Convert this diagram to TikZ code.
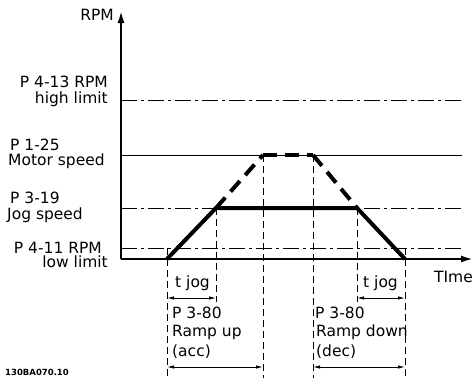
\documentclass[tikz,border=0pt]{standalone}
\usepackage{fontspec}
\setmainfont{DejaVu Sans}
\usetikzlibrary{arrows.meta}
\begin{document}
\begin{tikzpicture}[x=1pt,y=-1pt,
  lbl/.style={inner sep=0pt,font=\fontsize{15.5}{18}\selectfont},
  code/.style={inner sep=0pt,font=\fontsize{8.5}{10}\selectfont\bfseries},
  axis/.style={line width=2pt,-{Latex[length=12pt,width=7pt]}},
  level/.style={line width=0.9pt, dash pattern=on 16pt off 4pt on 3pt off 4pt},
  motor/.style={line width=1pt},
  ramp/.style={line width=4pt},
  rampdash/.style={line width=4pt, dash pattern=on 14pt off 8pt},
  guide/.style={line width=0.9pt, dash pattern=on 7pt off 4pt},
  dim/.style={line width=0.9pt,{Latex[length=7pt,width=3.5pt]}-{Latex[length=7pt,width=3.5pt]}},
]
\useasboundingbox (0,0) rectangle (474,378);

% axis coordinates
\coordinate (O) at (121,259);
\coordinate (ytop) at (121,11);
\coordinate (xend) at (473,259);

% level lines
\coordinate (hiL) at (121,100); \coordinate (hiR) at (462,100);
\coordinate (moL) at (121,155); \coordinate (moR) at (462,155);
\coordinate (jgL) at (121,208); \coordinate (jgR) at (462,208);
\coordinate (loL) at (121,248); \coordinate (loR) at (462,248);
\draw[level] (hiL) -- (hiR);
\draw[motor] (moL) -- (moR);
\draw[level] (jgL) -- (jgR);
\draw[level] (loL) -- (loR);

% ramp profile
\coordinate (A) at (167,259);
\coordinate (B) at (216,208);
\coordinate (C) at (263,155);
\coordinate (D) at (313,155);
\coordinate (E) at (357,208);
\coordinate (F) at (405,259);

% guides
\coordinate (gA1) at (167,248); \coordinate (gA2) at (167,378);
\coordinate (gB2) at (216,302);
\coordinate (gC2) at (263,378);
\coordinate (gD2) at (313,378);
\coordinate (gE2) at (357,302);
\coordinate (gF1) at (405,248); \coordinate (gF2) at (405,378);
\draw[guide] (gA1) -- (gA2);
\draw[guide] (B) -- (gB2);
\draw[guide] (C) -- (gC2);
\draw[guide] (D) -- (gD2);
\draw[guide] (E) -- (gE2);
\draw[guide] (gF1) -- (gF2);

\draw[ramp] (A) -- (B) -- (E) -- (F);
\draw[rampdash] (B) -- (C);
\draw[rampdash] (C) -- (D);
\draw[rampdash] (D) -- (E);

% axes
\draw[axis] (O) -- (ytop);
\draw[axis] (O) -- (xend);

% dimension arrows
\coordinate (t1a) at (167,298); \coordinate (t1b) at (216,298);
\coordinate (t2a) at (357,298); \coordinate (t2b) at (405,298);
\coordinate (r1a) at (167,367); \coordinate (r1b) at (263,367);
\coordinate (r2a) at (313,367); \coordinate (r2b) at (405,367);
\draw[dim] (t1a) -- (t1b);
\draw[dim] (t2a) -- (t2b);
\draw[dim] (r1a) -- (r1b);
\draw[dim] (r2a) -- (r2b);

% labels
\node[lbl,anchor=base east] (rpm) at (114,20) {RPM};
\node[lbl,anchor=base east] (hi1) at (108,87) {P 4-13 RPM};
\node[lbl,anchor=base east] (hi2) at (108,103) {high limit};
\node[lbl,anchor=base west] (mo1) at (10,150) {P 1-25};
\node[lbl,anchor=base west] (mo2) at (8,165) {Motor speed};
\node[lbl,anchor=base west] (jg1) at (10,203) {P 3-19};
\node[lbl,anchor=base west] (jg2) at (7,219) {Jog speed};
\node[lbl,anchor=base east] (lo1) at (102,253) {P 4-11 RPM};
\node[lbl,anchor=base east] (lo2) at (108,267) {low limit};
\node[lbl,anchor=base west] (tj1) at (175,287) {t jog};
\node[lbl,anchor=base west] (tj2) at (363,287) {t jog};
\node[lbl,anchor=base west] (ru1) at (172,318) {P 3-80};
\node[lbl,anchor=base west] (ru2) at (172,336) {Ramp up};
\node[lbl,anchor=base west] (ru3) at (172,356) {(acc)};
\node[lbl,anchor=base west] (rd1) at (315,318) {P 3-80};
\node[lbl,anchor=base west] (rd2) at (316,336) {Ramp down};
\node[lbl,anchor=base west] (rd3) at (316,356) {(dec)};
\node[lbl,anchor=base east] (time) at (473,282) {TIme};
\node[code,anchor=base west] (id) at (5,375) {130BA070.10};
\end{tikzpicture}
\end{document}
